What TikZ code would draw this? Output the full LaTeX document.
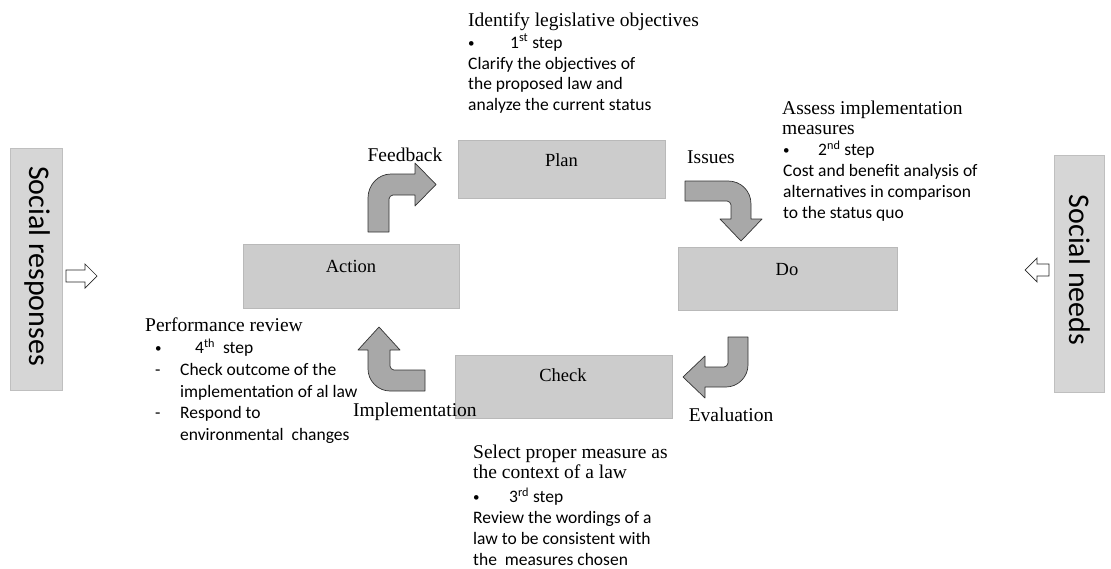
\documentclass[tikz,border=0pt]{standalone}
\usepackage{fontspec}
\setmainfont{Liberation Serif}
\newfontfamily\calfont{Carlito}
\newcommand{\bul}{\raisebox{1.2pt}{\fontsize{13}{13}\selectfont•}}
\begin{document}
\begin{tikzpicture}[x=1pt,y=-1pt,
  box/.style={fill=gray!40, draw=gray!55, line width=0.4pt, inner sep=0pt},
  sidebox/.style={fill=gray!32, draw=gray!50, line width=0.4pt, inner sep=0pt},
  boxlabel/.style={font=\fontsize{18.5}{20}\selectfont, inner sep=0pt},
  blockarrow/.style={fill=gray!68, draw=black!80, line width=0.7pt, line join=round},
  hollow/.style={fill=white, draw=black!85, line width=0.7pt, line join=miter},
  serif/.style={font=\fontsize{19.5}{20}\selectfont, inner sep=0pt, align=left},
  sans/.style={font=\calfont\fontsize{17.5}{20.8}\selectfont, inner sep=0pt, align=left, anchor=north west},
  sidetext/.style={font=\calfont\fontsize{30}{32}\selectfont, inner sep=0pt, rotate=-90}
]
\useasboundingbox (0,0) rectangle (1111,568);

% side boxes
\node[sidebox, minimum width=52pt, minimum height=242pt] (resp) at (36,269) {};
\node[sidetext] (resptext) at (37,266) {Social responses};
\node[sidebox, minimum width=50pt, minimum height=237pt] (needs) at (1079,273.5) {};
\node[sidetext] (needstext) at (1080,270) {Social needs};

% hollow arrows
\draw[hollow] (66,270) -- (85,270) -- (85,264) -- (97,276) -- (85,288) -- (85,282) -- (66,282) -- cycle;
\draw[hollow] (1049,264) -- (1037,264) -- (1037,258) -- (1025,270) -- (1037,282) -- (1037,276) -- (1049,276) -- cycle;

% main boxes
\node[box, minimum width=207pt, minimum height=58pt] (plan) at (561.5,169) {};
\node[box, minimum width=219pt, minimum height=63pt] (do) at (787.5,278.5) {};
\node[box, minimum width=216pt, minimum height=64pt] (action) at (351,276) {};
\node[box, minimum width=217pt, minimum height=63pt] (check) at (563.5,386.5) {};
\node[boxlabel] (planlbl) at (561.5,160) {Plan};
\node[boxlabel] (dolbl) at (787,270) {Do};
\node[boxlabel] (actionlbl) at (351,266) {Action};
\node[boxlabel] (checklbl) at (563,375) {Check};

% bent block arrows
% Feedback (up then right)
\draw[blockarrow] (368,232) -- (368,198) .. controls (368,185) and (378,174) .. (391,174)
  -- (415,174) -- (415,163) -- (436,184.5) -- (415,206) -- (415,195) -- (393,195)
  .. controls (391,195) and (389,197) .. (389,199) -- (389,232) -- cycle;
% Issues (right then down)
\draw[blockarrow] (685,181) -- (728,181) .. controls (741,181) and (751,191) .. (751,204)
  -- (751,219) -- (762,219) -- (741,241) -- (720,219) -- (731,219) -- (731,205)
  .. controls (731,203) and (729,201) .. (727,201) -- (685,201) -- cycle;
% Evaluation (down then left)
\draw[blockarrow] (728,337) -- (748,337) -- (748,365) .. controls (748,377) and (738,387) .. (726,387)
  -- (705,387) -- (705,398) -- (683,377) -- (705,356) -- (705,367) -- (724,367)
  .. controls (726,367) and (728,365) .. (728,363) -- cycle;
% Implementation (left then up)
\draw[blockarrow] (425,370) -- (425,391) -- (390,391) .. controls (378,391) and (368,381) .. (368,369)
  -- (368,350) -- (358,350) -- (379,327) -- (400,350) -- (390,350) -- (390,366)
  .. controls (390,368) and (392,370) .. (394,370) -- cycle;

% arrow labels
\node[serif] (fb) at (405,155) {Feedback};
\node[serif] (iss) at (711,157) {Issues};
\node[serif, anchor=west] (impl) at (353,412) {Implementation};
\node[serif] (eval) at (731,415) {Evaluation};

% step 1
\node[serif, anchor=west] (s1h) at (468,22) {Identify legislative objectives};
\node[sans] (s1t) at (468,34) {\makebox[42pt][l]{\bul}1\textsuperscript{st} step\\Clarify the objectives of\\the proposed law and\\analyze the current status};

% step 2
\node[serif, anchor=north west] (s2h) at (782,101) {Assess implementation\\measures};
\node[sans] (s2t) at (783,141) {\makebox[35pt][l]{\bul}2\textsuperscript{nd} step\\Cost and benefit analysis of\\alternatives in comparison\\to the status quo};

% step 3
\node[serif, anchor=north west] (s3h) at (473,445) {Select proper measure as\\the context of a law};
\node[sans] (s3t) at (473,488) {\makebox[36pt][l]{\bul}3\textsuperscript{rd} step\\Review the wordings of a\\law to be consistent with\\the\ \ measures chosen};

% step 4
\node[serif, anchor=west] (s4h) at (145,325) {Performance review};
\node[sans, font=\calfont\fontsize{17.5}{21.6}\selectfont] (s4t) at (155,339) {\makebox[40pt][l]{\bul}4\textsuperscript{th}\ \ step\\\makebox[25pt][l]{-}Check outcome of the\\\hspace*{25pt}implementation of al law\\\makebox[25pt][l]{-}Respond to\\\hspace*{25pt}environmental\ \ changes};
\end{tikzpicture}
\end{document}
